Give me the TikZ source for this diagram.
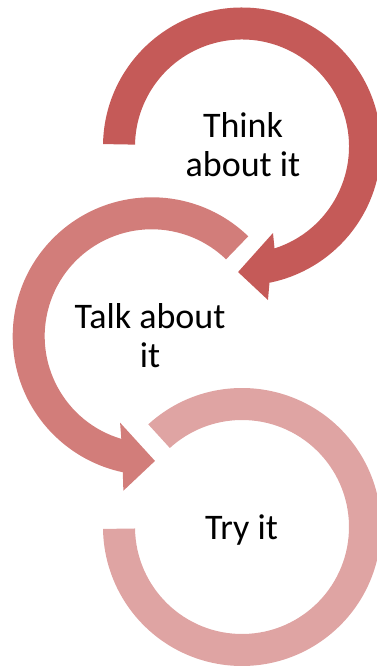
\documentclass[tikz,border=0pt]{standalone}
\usepackage{fontspec}
\setmainfont{Carlito}
\usepackage{tikz}
\usetikzlibrary{calc}
\definecolor{vong1}{HTML}{C55A58}
\definecolor{vong2}{HTML}{D27D7A}
\definecolor{vong3}{HTML}{DFA4A3}

\begin{document}
\begin{tikzpicture}[x=1pt,y=1pt,
    nhan/.style={align=center,inner sep=0pt,font=\fontsize{36}{39}\selectfont}]

            \useasboundingbox (0,0) rectangle (376,666);

            % Vẽ vòng mũi tên thứ ba (dưới)
            \fill[vong3,shift={(242,139)}] (132.4:139pt)
                arc[start angle=132.4,end angle=-179.2,radius=139pt]
                -- (-179.2:107pt)
                arc[start angle=-179.2,end angle=132.4,radius=107pt] -- cycle;

            % Vẽ vòng mũi tên thứ hai (giữa)
            \fill[vong2,shift={(151.7,329.7)}] (46:139pt)
                arc[start angle=46,end angle=258,radius=139pt]
                -- (259.6:157pt) -- (271.5:124.7pt) -- (249.9:92pt) -- (253.5:107pt)
                arc[start angle=253.5,end angle=46,radius=107pt] -- cycle;

            % Vẽ vòng mũi tên thứ nhất (trên)
            \fill[vong1,shift={(242,519.5)}] (179:139pt)
                arc[start angle=179,end angle=-78.6,radius=139pt]
                -- (-80.4:155.7pt) -- (-91.8:125.6pt) -- (-70.3:91.9pt) -- (-72.3:107pt)
                arc[start angle=-72.3,end angle=179,radius=107pt] -- cycle;

            % Ghi chú các bước
            \node[nhan,anchor=base] (think) at (243,489.3) {Think\\about it};
            \node[nhan,anchor=base] (talk) at (150,298) {Talk about\\it};
            \node[nhan,anchor=base] (try) at (241.5,126) {Try it};

\end{tikzpicture}
\end{document}
